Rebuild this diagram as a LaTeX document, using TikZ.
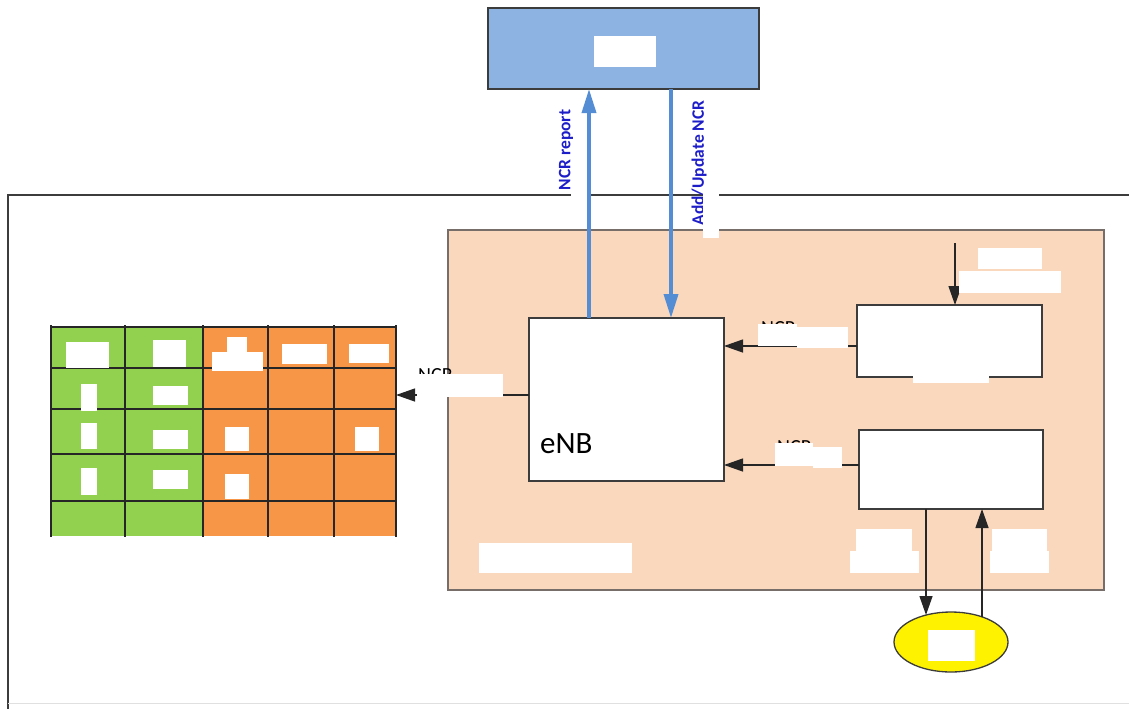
\documentclass[tikz,border=0pt]{standalone}
\usepackage{fontspec}
\setmainfont{Carlito}
\usetikzlibrary{arrows.meta,shapes.geometric}
\definecolor{hdrblue}{RGB}{141,179,226}
\definecolor{arrblue}{RGB}{84,141,212}
\definecolor{lblblue}{RGB}{30,30,200}
\definecolor{peach}{RGB}{249,216,190}
\definecolor{peachedge}{RGB}{120,110,105}
\definecolor{cgreen}{RGB}{146,208,80}
\definecolor{corange}{RGB}{247,150,70}
\definecolor{cyellow}{RGB}{255,242,0}
\definecolor{edge}{RGB}{60,60,60}
\begin{document}
\begin{tikzpicture}[x=1pt,y=-1pt,
  box/.style={draw=edge, line width=1.6pt, fill=white, inner sep=0pt, outer sep=0pt},
  conn/.style={draw=black!85, line width=1.3pt, -{Triangle[length=19pt,width=13pt]}},
  bconn/.style={draw=arrblue, line width=3.6pt, -{Triangle[length=24pt,width=14pt]}},
  blbl/.style={font=\fontsize{17.5}{17.5}\selectfont\bfseries, text=lblblue, rotate=90, inner sep=0pt},
  ncr/.style={font=\fontsize{20}{20}\selectfont, anchor=base west, inner sep=0pt},
  redact/.style={fill=white},
  grid/.style={draw=black!85, line width=1.6pt}
]
\useasboundingbox (0,0) rectangle (1129,709);

% outer frame
\draw[edge, line width=1.3pt] (1129,195) -- (8,195) -- (8,709);
\draw[black!12, line width=1pt] (8,703) -- (1129,703);

% peach area
\node[draw=peachedge, fill=peach, line width=1.8pt, minimum width=656pt, minimum height=360pt, inner sep=0pt, outer sep=0pt] (area) at (776,410) {};

% top box
\node[box, fill=hdrblue, minimum width=271pt, minimum height=81pt] (mme) at (623.5,48.5) {};

% eNB and functional boxes
\node[box, minimum width=195pt, minimum height=163pt] (enb) at (626.5,399.5) {};
\node[box, minimum width=185pt, minimum height=72pt] (ur) at (949.5,341) {};
\node[box, minimum width=184pt, minimum height=79pt] (lr) at (951,469.5) {};
\node[ellipse, draw=edge, fill=cyellow, line width=1.3pt, minimum width=114pt, minimum height=60pt, inner sep=0pt] (ue) at (951,642) {};

% table
\node[minimum width=345pt, minimum height=209pt, inner sep=0pt, outer sep=0pt] (tbl) at (223.5,431.5) {};
\fill[cgreen] (51,327) rectangle (203,536);
\fill[corange] (203,327) rectangle (396,536);
\foreach \yy in {327,368,409,454,501} \draw[grid] (51,\yy) -- (396,\yy);
\foreach \xx in {51,125,203,268,334,396} \draw[grid] (\xx,325) -- (\xx,537);

% blue connectors
\coordinate (xR) at (589,0);
\coordinate (xU) at (671,0);
\draw[bconn] (enb.north -| xR) -- (mme.south -| xR);
\draw[bconn] (mme.south -| xU) -- (enb.north -| xU);

% black connectors
\coordinate (yA) at (0,346);
\coordinate (yB) at (0,465);
\coordinate (yC) at (0,395);
\draw[conn] (ur.west |- yA) -- (enb.east |- yA);
\draw[conn] (lr.west |- yB) -- (enb.east |- yB);
\draw[conn] (enb.west |- yC) -- (tbl.east |- yC);
\coordinate (inTop) at (955,243);
\draw[conn] (inTop) -- (ur.north -| inTop);
\coordinate (dn) at (926,615);
\draw[conn] (lr.south -| dn) -- (dn);
\coordinate (upp) at (982,617);
\draw[conn] (upp) -- (lr.south -| upp);

% texts
\node[blbl] (lrep) at (566,150) {NCR report};
\node[blbl] (lupd) at (699,163) {Add/Update NCR};
\node[font=\fontsize{31}{31}\selectfont, anchor=base west, inner sep=0pt] (enbl) at (540,453) {eNB};
\node[ncr] (n1) at (418,381) {NCR};
\node[ncr] (n2) at (761,334) {NCR};
\node[ncr] (n3) at (777,453) {NCR};

% white patches
\fill[redact] (594,36) rectangle (656,67);
\fill[redact] (571,182) rectangle (586.8,203);
\fill[redact] (703,192) rectangle (719,238);
\fill[redact] (417,374) rectangle (503,397);
\fill[redact] (758,324) rectangle (797,346);
\fill[redact] (797,327) rectangle (848,348);
\fill[redact] (775,443) rectangle (813,466);
\fill[redact] (813,447) rectangle (842,468);
\fill[redact] (978,248) rectangle (1042,269);
\fill[redact] (959,271) rectangle (1061,293);
\fill[redact] (913,373) rectangle (989,383);
\fill[redact] (856,529) rectangle (912,551);
\fill[redact] (850,551) rectangle (919,573);
\fill[redact] (992,529) rectangle (1047,551);
\fill[redact] (990,551) rectangle (1049,573);
\fill[redact] (479,543) rectangle (632,573);
\fill[redact] (928,630) rectangle (975,661);
% table patches
\fill[redact] (66,342) rectangle (109,368);
\fill[redact] (153,340) rectangle (186,367);
\fill[redact] (227,337) rectangle (247,352);
\fill[redact] (212,352) rectangle (263,371);
\fill[redact] (282,344) rectangle (327,364);
\fill[redact] (349,344) rectangle (389,363);
\fill[redact] (81,384) rectangle (97,411);
\fill[redact] (153,386) rectangle (188,405);
\fill[redact] (81,423) rectangle (97,449);
\fill[redact] (153,430) rectangle (188,449);
\fill[redact] (225,427) rectangle (249,451);
\fill[redact] (355,427) rectangle (379,451);
\fill[redact] (81,468) rectangle (97,495);
\fill[redact] (153,470) rectangle (188,489);
\fill[redact] (225,474) rectangle (249,499);
\end{tikzpicture}
\end{document}
